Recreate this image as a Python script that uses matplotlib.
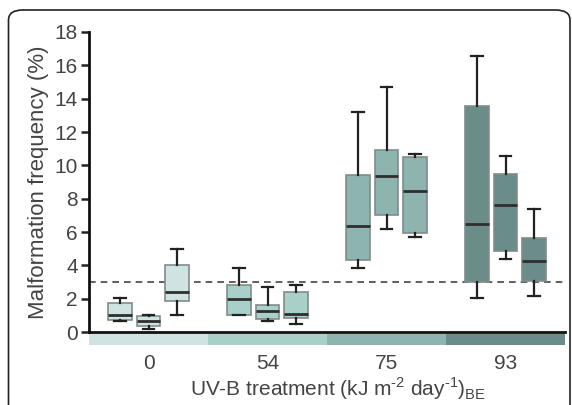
import matplotlib
matplotlib.use('Agg')
import matplotlib.pyplot as plt
from matplotlib.patches import FancyBboxPatch, Rectangle

# UV-B dose groups and three boxes per group
doses = ['0', '54', '75', '93']
group_colors = ['#cfe3e2', '#a9cfc9', '#8db4ae', '#6a8d8a']

# box stats: (whislo, q1, med, q3, whishi)
whislo = [0.68, 0.18, 1.02, 1.02, 0.68, 0.50, 3.84, 6.18, 5.68, 2.02, 4.36, 2.16]
q1 = [0.74, 0.34, 1.88, 1.04, 0.76, 0.82, 4.34, 7.02, 5.96, 2.98, 4.88, 3.08]
med = [1.02, 0.68, 2.42, 1.96, 1.28, 1.10, 6.36, 9.36, 8.44, 6.46, 7.62, 4.28]
q3 = [1.76, 0.98, 4.04, 2.82, 1.64, 2.42, 9.42, 10.92, 10.48, 13.58, 9.48, 5.62]
whishi = [2.02, 1.02, 5.00, 3.84, 2.70, 2.84, 13.22, 14.70, 10.70, 16.58, 10.54, 7.36]

threshold = 3.0

plt.rcParams['font.family'] = ['Liberation Sans', 'DejaVu Sans']
plt.rcParams['mathtext.fontset'] = 'custom'
plt.rcParams['mathtext.rm'] = 'Liberation Sans'
text_color = '#444444'

fig = plt.figure(figsize=(5.72, 4.05), dpi=100)
ax = fig.add_axes([0.1556, 0.1802, 0.8322, 0.7408])

# rounded frame round the whole panel
frame = FancyBboxPatch((8.5 / 572, -0.1), (570 - 8.5) / 572, (405 - 10) / 405 + 0.1,
                       boxstyle='round,pad=0,rounding_size=0.025',
                       transform=fig.transFigure, facecolor='none',
                       edgecolor='#222222', linewidth=1.2, zorder=0)
fig.patches.append(frame)

offset = 0.24
stats = []
positions = []
colors = []
for g in range(len(doses)):
    for k in range(3):
        i = g * 3 + k
        stats.append(dict(whislo=whislo[i], q1=q1[i], med=med[i], q3=q3[i],
                          whishi=whishi[i], fliers=[]))
        positions.append(g + (k - 1) * offset)
        colors.append(group_colors[g])

bp = ax.bxp(stats, positions=positions, widths=0.2, patch_artist=True,
            showfliers=False, capwidths=0.1,
            boxprops=dict(edgecolor='#7f8c8b', linewidth=1.2),
            medianprops=dict(color='#2e2e2e', linewidth=2),
            whiskerprops=dict(color='#222222', linewidth=1.6),
            capprops=dict(color='#222222', linewidth=1.6))
for patch, c in zip(bp['boxes'], colors):
    patch.set_facecolor(c)

ax.axhline(threshold, color='#444444', linestyle=(0, (4, 3)), linewidth=1.2, zorder=0)

# coloured bands under the axis
for g, c in enumerate(group_colors):
    ax.add_patch(Rectangle((g - 0.5, -0.80), 1.0, 0.68, facecolor=c,
                           edgecolor='none', clip_on=False))

ax.set_xlim(-0.5, 3.5)
ax.set_ylim(0, 18)
ax.set_yticks(range(0, 19, 2))
ax.set_xticks(range(len(doses)))
ax.set_xticklabels(doses)
ax.tick_params(axis='y', length=6, width=1.8, color='#222222', labelsize=15,
               labelcolor=text_color, pad=2)
ax.tick_params(axis='x', length=0, labelsize=15, labelcolor=text_color, pad=16)

for s in ['top', 'right']:
    ax.spines[s].set_visible(False)
for s in ['left', 'bottom']:
    ax.spines[s].set_linewidth(2)
    ax.spines[s].set_color('#111111')

ax.set_ylabel('Malformation frequency (%)', fontsize=16, color=text_color, labelpad=4)
# x label placed by hand so the superscripts do not push it off the figure
fig.text(0.59, 0.022,
         r'UV-B treatment (kJ m$^{\text{-2}}$ day$^{\text{-1}}$)$_{\text{BE}}$',
         fontsize=15, color=text_color, ha='center', va='baseline')

fig.savefig('out.png', dpi=100)
